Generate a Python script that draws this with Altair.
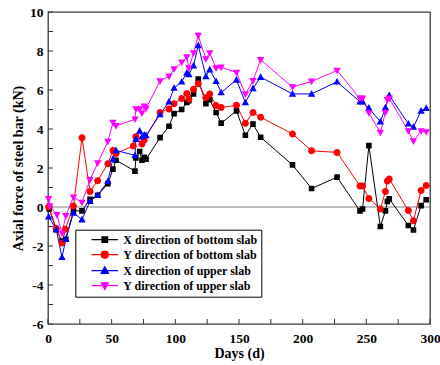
import altair as alt
import pandas as pd

series_names = [
    "X direction of bottom slab",
    "Y direction of bottom slab",
    "X direction of upper slab",
    "Y direction of upper slab",
]
series_colors = ["#000000", "#ff0000", "#0000ff", "#ff00ff"]

xb_days = [1, 6.5, 11, 14, 20, 26.7, 33, 39, 47, 51, 53.4, 68.3, 69, 72, 73.8, 75.6, 77, 88, 95, 99,
           105, 109, 110.6, 114.3, 118, 124, 127, 132, 136, 148, 155, 161, 167, 192, 207, 227,
           245, 247, 252, 261, 265, 266.5, 268, 283, 287, 293, 297]
xb_vals = [-0.1, -1.17, -1.75, -1.65, -0.2, -0.2, 0.4, 0.6, 1.2, 1.94, 2.4, 1.84, 2.52, 2.85, 2.4, 2.55, 2.45, 3.56, 4.14, 4.79,
           5.0, 5.36, 5.45, 5.8, 6.56, 5.3, 5.5, 4.85, 4.3, 4.93, 3.68, 4.25, 3.58, 2.16, 0.95, 1.53,
           -0.2, -0.1, 3.15, -1.0, -0.2, 0.28, 0.42, -0.95, -1.18, 0.07, 0.37]

yb_days = [0.5, 6.5, 11, 13.6, 20, 26.7, 33, 39, 47, 51, 53.4, 67, 69, 73.8, 75.6, 88, 95, 99,
           105, 109, 110.6, 114.3, 118, 124, 127, 132, 136, 148, 155, 161, 167, 192, 207, 227,
           245, 247, 252, 261, 265, 266.5, 268, 283, 287, 293, 297]
yb_vals = [0.0, -1.1, -1.85, -1.14, 0.05, 3.55, 0.8, 1.35, 2.22, 2.9, 2.75, 3.13, 3.6, 3.23, 3.44, 4.85, 5.03, 5.3,
           5.56, 5.82, 5.53, 6.04, 6.32, 5.6, 5.8, 5.2, 5.1, 5.22, 4.3, 4.85, 4.6, 3.75, 2.88, 2.8,
           1.08, 1.08, 0.43, -0.1, 0.8, 1.33, 1.44, -0.18, -0.7, 0.85, 1.1]

xu_days = [0.5, 6.5, 11, 14, 20, 26.7, 33, 39, 47, 51, 53.4, 68.3, 69, 72, 73.8, 75.6, 77, 88, 95, 99,
           105, 109, 110.6, 114.3, 118, 124, 127, 132, 136, 148, 155, 161, 167, 192, 207, 227,
           245, 247, 252, 261, 265, 268, 283, 287, 293, 297]
xu_vals = [-0.5, -1.15, -2.58, -1.65, -0.3, -0.65, 0.3, 0.6, 1.32, 2.47, 2.9, 2.65, 3.48, 3.9, 3.6, 3.7, 3.67, 4.75, 5.4, 6.1,
           6.42, 6.88, 6.8, 7.25, 8.29, 6.7, 7.04, 6.45, 5.87, 6.52, 5.36, 6.08, 6.66, 5.8, 5.8, 6.42,
           5.4, 5.4, 5.08, 4.37, 5.1, 5.72, 4.27, 4.1, 4.93, 5.07]

yu_days = [0.5, 1.5, 7, 11, 14, 20, 26.7, 33, 39, 47, 51, 53.4, 68.3, 69, 72, 73.8, 75.6, 77, 88, 95, 99,
           105, 109, 110.6, 114.3, 118, 124, 127, 132, 136, 148, 155, 161, 167, 192, 207, 227,
           245, 247, 252, 261, 265, 266.5, 268, 283, 287, 293, 297]
yu_vals = [0.42, 0.05, -0.4, -1.35, -0.45, 0.5, 0.23, 1.39, 2.25, 3.36, 4.33, 4.16, 4.5, 5.02, 5.02, 4.81, 5.16, 5.05, 6.46, 6.7, 7.07,
           7.42, 7.69, 7.12, 7.9, 8.79, 7.59, 7.9, 7.12, 7.16, 6.9, 5.79, 6.47, 7.55, 6.15, 6.44, 7.0,
           5.57, 5.57, 4.82, 3.82, 4.85, 5.5, 5.57, 3.9, 3.38, 3.9, 3.85]

x_tick_values = [0, 50, 100, 150, 200, 250, 300]
x_minor_ticks = [0, 25, 50, 75, 100, 125, 150, 175, 200, 225, 250, 275, 300]
y_tick_values = [-6, -4, -2, 0, 2, 4, 6, 8, 10]
y_minor_ticks = [-6, -5, -4, -3, -2, -1, 0, 1, 2, 3, 4, 5, 6, 7, 8, 9, 10]
zero_level = [0]

rows = []
for name, colr, days, vals in zip(series_names, series_colors, [xb_days, yb_days, xu_days, yu_days],
                                  [xb_vals, yb_vals, xu_vals, yu_vals]):
    for i, (d, v) in enumerate(zip(days, vals)):
        rows.append({"series": name, "col": colr, "day": d, "force": v, "idx": i})
df = pd.DataFrame(rows)

seg = "M-3.8,0H3.8"
shape_paths = [
    "M-0.8,-0.8H0.8V0.8H-0.8Z" + seg,
    "M-1,0A1,1,0,1,0,1,0A1,1,0,1,0,-1,0Z" + seg,
    "M0,-1.1L1.05,0.8L-1.05,0.8Z" + seg,
    "M0,1.1L1.05,-0.8L-1.05,-0.8Z" + seg,
]

W, H = 382, 312
FONT = "Liberation Serif"

x_scale = alt.Scale(domain=[0, 300], nice=False, zero=False)
y_scale = alt.Scale(domain=[-6, 10], nice=False, zero=False)
color_scale = alt.Scale(domain=series_names, range=series_colors)
shape_scale = alt.Scale(domain=series_names, range=shape_paths)

x_axis = alt.Axis(values=x_tick_values, labelExpr="'' + datum.value", ticks=False, tickSize=0,
                  domain=False, grid=False, labelFont=FONT, labelFontSize=13.5, labelFontWeight="bold",
                  labelColor="black", labelPadding=7, labelFlush=False, labelOverlap=False,
                  title="Days (d)", titleFont=FONT, titleFontSize=14, titleFontWeight="bold",
                  titleColor="black", titlePadding=2)
y_axis = alt.Axis(values=y_tick_values, labelExpr="'' + datum.value", ticks=False, tickSize=0,
                  domain=False, grid=False, labelFont=FONT, labelFontSize=13.5, labelFontWeight="bold",
                  labelColor="black", labelPadding=5, labelFlush=False, labelOverlap=False,
                  title="Axial force of steel bar (kN)", titleFont=FONT, titleFontSize=14,
                  titleFontWeight="bold", titleColor="black", titlePadding=4)

leg = alt.Legend(title=None, orient="none", legendX=27.3, legendY=217.7,
                 labelFont=FONT, labelFontSize=12, labelFontWeight="bold", labelColor="black",
                 labelLimit=400, symbolSize=49, symbolStrokeWidth=1.2, symbolOffset=19.5,
                 labelOffset=12.5, padding=4, rowPadding=3, strokeColor="black", fillColor="white")

base = alt.Chart(df)

zero = alt.Chart(pd.DataFrame({"z": zero_level})).mark_rule(color="#808080", strokeWidth=1).encode(
    y=alt.Y("z:Q", scale=y_scale, axis=y_axis)
)

xt = alt.Chart(pd.DataFrame({"t": x_minor_ticks})).mark_rule(color="#333333", strokeWidth=1).encode(
    x=alt.X("t:Q", scale=x_scale, axis=x_axis),
    y=alt.value(H), y2=alt.value(H - 5),
)
yt = alt.Chart(pd.DataFrame({"t": y_minor_ticks})).mark_rule(color="#333333", strokeWidth=1).encode(
    y=alt.Y("t:Q", scale=y_scale, axis=y_axis),
    x=alt.value(0), x2=alt.value(5),
)

lines = base.mark_line(strokeWidth=1).encode(
    x=alt.X("day:Q", scale=x_scale, axis=x_axis),
    y=alt.Y("force:Q", scale=y_scale, axis=y_axis),
    stroke=alt.Stroke("col:N", scale=None),
    order="idx:Q",
)

points = base.mark_point(filled=True, size=49, opacity=1).encode(
    x=alt.X("day:Q", scale=x_scale, axis=x_axis),
    y=alt.Y("force:Q", scale=y_scale, axis=y_axis),
    fill=alt.Fill("series:N", scale=color_scale, legend=leg),
    stroke=alt.Stroke("series:N", scale=color_scale, legend=leg),
    shape=alt.Shape("series:N", scale=shape_scale, legend=leg),
    strokeWidth=alt.value(0),
)

chart = alt.layer(zero, xt, yt, lines, points).properties(
    width=W, height=H,
    autosize=alt.AutoSizeParams(type="none"),
    padding={"left": 48, "top": 12, "right": 10, "bottom": 41},
    background="white",
).configure_view(stroke="#3a3a3a", strokeWidth=1.3)

chart.save("out.html", embed_options={"renderer": "svg", "actions": False})
